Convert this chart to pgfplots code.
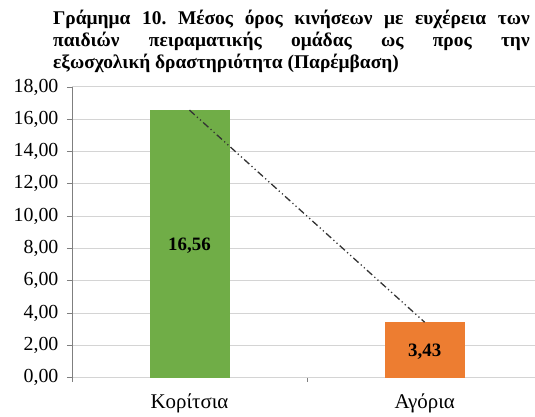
\documentclass[border=0pt]{standalone}
\usepackage{fontspec}
\setmainfont{Liberation Serif}
\usepackage{pgfplots}
\pgfplotsset{compat=1.18}
\definecolor{barGreen}{HTML}{70AD47}
\definecolor{barOrange}{HTML}{ED7D31}
\definecolor{gridGray}{HTML}{D4D4D4}
\definecolor{axisGray}{HTML}{7F7F7F}
\frenchspacing
\begin{document}
\begin{tikzpicture}
  \begin{axis}[
    at={(0,0)}, anchor=south west,
    scale only axis, width=463bp, height=291bp,
    xmin=-0.5, xmax=1.467, ymin=0, ymax=18,
    ytick={0,2,...,18},
    xtick={0,1}, xticklabels={Κορίτσια,Αγόρια},
    extra x ticks={-0.5,0.5,1.5}, extra x tick labels={},
    extra x tick style={grid=none, major tick length=4bp,
      xtick style={draw=axisGray}},
    xtick style={draw=none},
    axis x line*=bottom, axis y line*=left,
    x axis line style={draw=gridGray, line width=1bp, -},
    y axis line style={draw=axisGray, line width=0.8bp, -},
    tick align=outside,
    major tick length=5bp,
    ytick style={draw=axisGray, line width=0.8bp},
    ymajorgrids,
    grid style={draw=gridGray, line width=1bp},
    /pgf/number format/.cd, fixed, fixed zerofill, precision=2,
      use comma, assume math mode=true,
    /pgfplots/.cd,
    yticklabel style={font=\fontsize{20}{22}\selectfont, xshift=-5bp},
    xticklabel style={font=\fontsize{21}{23}\selectfont, yshift=-8bp},
    ybar, bar width=0.335, bar shift=0,
    clip=false,
  ]
    \addplot[fill=barGreen, draw=barGreen] coordinates {(0,16.56)};
    \addplot[fill=barOrange, draw=barOrange] coordinates {(1,3.43)};
    % trendline
    \addplot[sharp plot, black!80, line width=1.3bp,
      dash pattern=on 7bp off 3bp on 1.2bp off 3bp on 1.2bp off 3bp]
      coordinates {(0,16.56) (1,3.43)};
    \node[font=\fontsize{19}{20}\selectfont\bfseries, yshift=-2bp] at (axis cs:0,8.28) {16,56};
    \node[font=\fontsize{19}{20}\selectfont\bfseries, yshift=-2bp] at (axis cs:1,1.715) {3,43};
  \end{axis}
  \node[anchor=north west, inner sep=0, text width=477bp, align=justify,
    font=\fontsize{19.5}{22}\selectfont\bfseries] at (-19bp,368bp)
    {Γράμημα 10. Μέσος όρος κινήσεων με ευχέρεια των\linebreak
     παιδιών πειραματικής ομάδας ως προς την\linebreak
     εξωσχολική δραστηριότητα (Παρέμβαση)};
  \path[use as bounding box] (-72bp,-34bp) rectangle (463bp,378bp);
\end{tikzpicture}
\end{document}
